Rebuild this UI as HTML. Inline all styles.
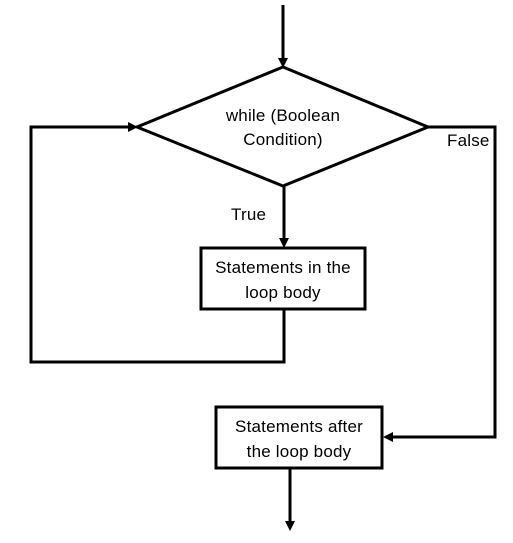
<!DOCTYPE html>
<html><head><meta charset="utf-8"><style>
html,body{margin:0;padding:0;background:#fff;}
svg{display:block;}
text{font-family:"Liberation Sans",sans-serif;font-size:17px;fill:#000;letter-spacing:0.2px;}
</style></head><body>
<svg width="513" height="543" viewBox="0 0 513 543" xmlns="http://www.w3.org/2000/svg">
<g fill="none" stroke="#000" stroke-width="3">
<line x1="283" y1="5" x2="283" y2="60"/>
<polygon points="283,67 428,127 283,186 137,127"/>
<line x1="284" y1="186" x2="284" y2="240"/>
<rect x="201" y="248" width="164" height="61"/>
<polyline points="284,309 284,362 31,362 31,127 130,127"/>
<polyline points="428,127 495,127 495,437 393,437"/>
<rect x="216" y="407" width="166" height="61"/>
<line x1="290" y1="468" x2="290" y2="522"/>
</g>
<g fill="#000">
<polygon points="278,58 288,58 283,68"/>
<polygon points="279,238 289,238 284,248"/>
<polygon points="128,122 128,132 138,127"/>
<polygon points="393,432 393,442 383,437"/>
<polygon points="285,521 295,521 290,531"/>
</g>
<text x="283" y="121" text-anchor="middle">while (Boolean</text>
<text x="283" y="145" text-anchor="middle">Condition)</text>
<text x="447" y="146">False</text>
<text x="231" y="220">True</text>
<text x="283" y="273" text-anchor="middle">Statements in the</text>
<text x="283" y="298" text-anchor="middle">loop body</text>
<text x="299" y="432" text-anchor="middle">Statements after</text>
<text x="299" y="457" text-anchor="middle">the loop body</text>
</svg>
</body></html>
